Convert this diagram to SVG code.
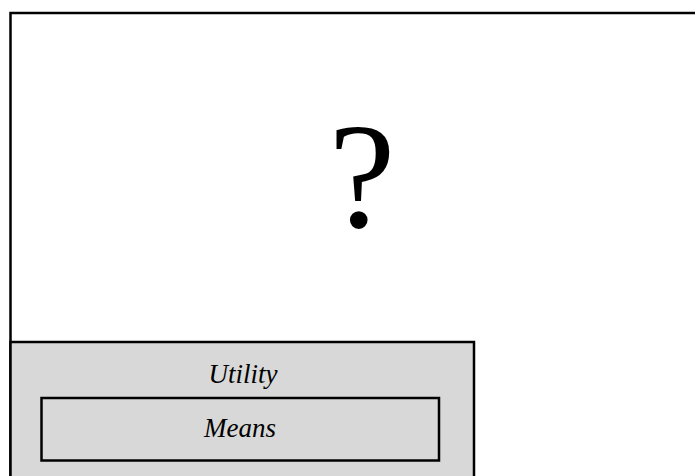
<svg xmlns="http://www.w3.org/2000/svg" width="695" height="476" viewBox="0 0 695 476">
  <style>
    .box { stroke: #000; stroke-width: 2.5; }
    .label { font-family: "Liberation Serif", "Times New Roman", serif; font-style: italic; font-size: 27px; text-anchor: middle; fill: #000; }
    .big { font-family: "Liberation Serif", "Times New Roman", serif; font-size: 150px; text-anchor: middle; fill: #000; }
  </style>
  <rect width="695" height="476" fill="#fff"/>
  <g id="unknown">
    <rect class="box" x="10.5" y="13" width="700" height="480" fill="#fff"/>
    <text class="big" x="362" y="227">?</text>
  </g>
  <g id="utility">
    <rect class="box" x="10.5" y="342" width="463.5" height="150" fill="#d8d8d8"/>
    <text class="label" x="243" y="383">Utility</text>
  </g>
  <g id="means">
    <rect class="box" x="41.5" y="398" width="397.5" height="62.5" fill="#d8d8d8"/>
    <text class="label" x="240" y="437">Means</text>
  </g>
  <g id="connectors"/>
</svg>
